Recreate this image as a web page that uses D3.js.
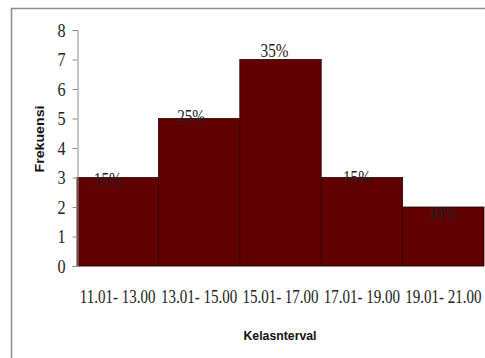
<!DOCTYPE html>
<html><head><meta charset="utf-8">
<script src="https://cdn.jsdelivr.net/npm/d3@7/dist/d3.min.js"></script>
<style>body{margin:0;background:#fff}</style>
</head><body>
<svg id="c" width="485" height="358"></svg>
<script>
const categories = ["11.01- 13.00","13.01- 15.00","15.01- 17.00","17.01- 19.00","19.01- 21.00"];
const frequencies = [3,5,7,3,2];
const percentLabels = ["15%","25%","35%","15%","10%"];
const yTicks = [0,1,2,3,4,5,6,7,8];
const xTitle = "Kelasnterval";
const yTitle = "Frekuensi";

const svg = d3.select("#c");
svg.append("rect").attr("x",11.5).attr("y",8.5).attr("width",490).attr("height",370)
  .attr("fill","#fff").attr("stroke","#8c8c8c").attr("stroke-width",1.5);

const x = d3.scaleBand().domain(categories).range([77,484]).padding(0);
const y = d3.scaleLinear().domain([0,8]).range([266,30]);

// bars
svg.selectAll("rect.bar").data(frequencies).join("rect").attr("class","bar")
  .attr("x",(d,i)=>x(categories[i]))
  .attr("y",d=>y(d))
  .attr("width",x.bandwidth())
  .attr("height",d=>y(0)-y(d))
  .attr("fill","#600000").attr("stroke","#2a0000").attr("stroke-width",0.8);

// y axis
const yAxis = d3.axisLeft(y).tickValues(yTicks).tickSize(5).tickPadding(6).tickFormat(d3.format("d"));
const ga = svg.append("g").attr("transform","translate(77.5,0)").call(yAxis);
ga.select(".domain").attr("stroke","#8c8c8c");
ga.selectAll(".tick line").attr("stroke","#8c8c8c");
ga.selectAll(".tick text").attr("font-family","'Liberation Serif','Times New Roman',serif")
  .attr("font-size",19).attr("fill","#222").attr("transform","scale(0.85,1)")
  .attr("x",-12/0.85);

// x axis line
svg.append("line").attr("x1",77).attr("x2",484).attr("y1",266.5).attr("y2",266.5).attr("stroke","#8c8c8c");

// x tick labels (horizontally condensed serif)
svg.selectAll("text.xl").data(categories).join("text").attr("class","xl")
  .attr("transform",d=>`translate(${x(d)+x.bandwidth()/2},303) scale(0.79,1)`)
  .attr("text-anchor","middle")
  .attr("font-family","'Liberation Serif','Times New Roman',serif").attr("font-size",19).attr("fill","#222")
  .text(d=>d);

// percent labels (manual nudges as in original)
const nudgeX = [-10,-8,-6,-5,-1];
const nudgeY = [8,4,-3,6,13];
svg.selectAll("text.pl").data(percentLabels).join("text").attr("class","pl")
  .attr("transform",(d,i)=>`translate(${x(categories[i])+x.bandwidth()/2+nudgeX[i]},${y(frequencies[i])+nudgeY[i]}) scale(0.8,1)`)
  .attr("text-anchor","middle")
  .attr("font-family","'Liberation Serif','Times New Roman',serif").attr("font-size",19).attr("fill","#222")
  .text(d=>d);

// axis titles
svg.append("text").attr("x",280).attr("y",340).attr("text-anchor","middle")
  .attr("font-family","'Liberation Sans',Arial,sans-serif").attr("font-weight","bold").attr("font-size",13.5)
  .attr("fill","#111").attr("textLength",73).attr("lengthAdjust","spacingAndGlyphs").text(xTitle);
svg.append("text").attr("transform","translate(44,139) rotate(-90)").attr("text-anchor","middle")
  .attr("font-family","'Liberation Sans',Arial,sans-serif").attr("font-weight","bold").attr("font-size",13.5)
  .attr("fill","#111").attr("textLength",67).attr("lengthAdjust","spacingAndGlyphs").text(yTitle);
</script>
</body></html>
